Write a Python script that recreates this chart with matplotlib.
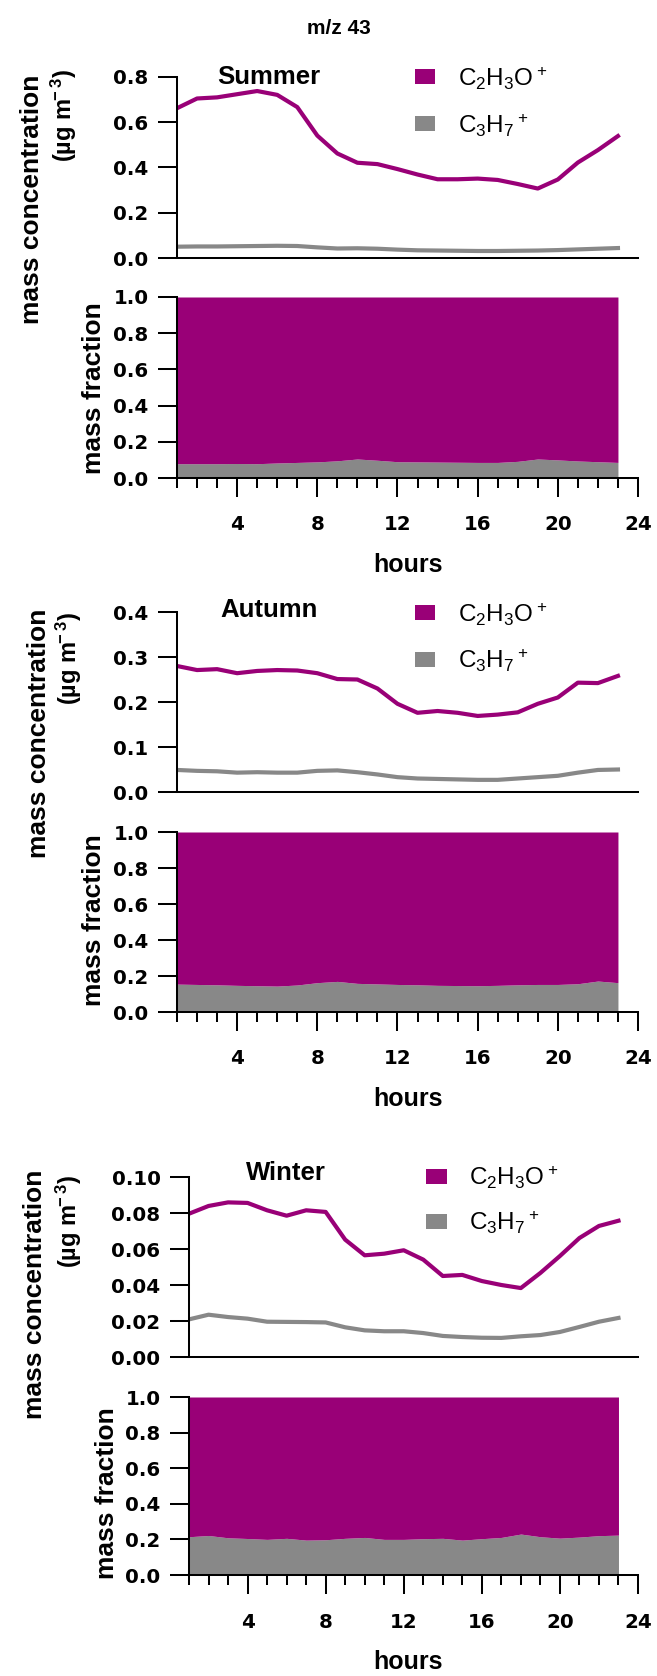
import matplotlib
matplotlib.use('Agg')
import matplotlib.pyplot as plt
from matplotlib.patches import Rectangle
from matplotlib.ticker import FixedLocator

plt.rcParams['font.family'] = ['Liberation Sans', 'DejaVu Sans']
plt.rcParams['mathtext.fontset'] = 'custom'
plt.rcParams['mathtext.rm'] = 'Liberation Sans'
plt.rcParams['mathtext.default'] = 'regular'

hours = list(range(1, 24))

summer_c2h3o = [0.662, 0.705, 0.710, 0.724, 0.738, 0.721, 0.667, 0.541, 0.462, 0.421,
                0.415, 0.393, 0.369, 0.348, 0.348, 0.351, 0.345, 0.327, 0.307, 0.347,
                0.422, 0.477, 0.539]
summer_c3h7 = [0.050, 0.051, 0.051, 0.052, 0.053, 0.054, 0.053, 0.047, 0.042, 0.043,
               0.041, 0.037, 0.034, 0.033, 0.032, 0.031, 0.031, 0.032, 0.033, 0.035,
               0.038, 0.041, 0.044]
summer_frac = [0.079, 0.079, 0.079, 0.080, 0.079, 0.083, 0.086, 0.089, 0.095, 0.105,
               0.098, 0.090, 0.089, 0.088, 0.087, 0.086, 0.086, 0.092, 0.105, 0.100,
               0.094, 0.090, 0.086]

autumn_c2h3o = [0.280, 0.271, 0.273, 0.264, 0.269, 0.271, 0.270, 0.264, 0.251, 0.250,
                0.230, 0.196, 0.176, 0.180, 0.176, 0.169, 0.172, 0.177, 0.196, 0.210,
                0.243, 0.242, 0.258]
autumn_c3h7 = [0.049, 0.047, 0.046, 0.043, 0.044, 0.043, 0.043, 0.047, 0.048, 0.044,
               0.039, 0.033, 0.030, 0.029, 0.028, 0.027, 0.027, 0.030, 0.033, 0.036,
               0.043, 0.049, 0.050]
autumn_frac = [0.155, 0.153, 0.151, 0.148, 0.146, 0.144, 0.150, 0.163, 0.170, 0.159,
               0.156, 0.153, 0.151, 0.148, 0.147, 0.146, 0.148, 0.151, 0.153, 0.153,
               0.157, 0.172, 0.163]

winter_c2h3o = [0.0796, 0.0839, 0.0859, 0.0856, 0.0815, 0.0785, 0.0815, 0.0806, 0.0652, 0.0565,
                0.0574, 0.0593, 0.0541, 0.0450, 0.0456, 0.0422, 0.0400, 0.0383, 0.0467, 0.0561,
                0.0661, 0.0728, 0.0757]
winter_c3h7 = [0.0209, 0.0235, 0.0222, 0.0213, 0.0196, 0.0195, 0.0194, 0.0192, 0.0165, 0.0148,
               0.0143, 0.0143, 0.0133, 0.0117, 0.0111, 0.0107, 0.0106, 0.0115, 0.0122, 0.0139,
               0.0167, 0.0196, 0.0217]
winter_frac = [0.215, 0.222, 0.209, 0.205, 0.200, 0.206, 0.196, 0.198, 0.206, 0.211,
               0.200, 0.200, 0.204, 0.206, 0.196, 0.204, 0.211, 0.230, 0.215, 0.207,
               0.213, 0.221, 0.224]

seasons = ['Summer', 'Autumn', 'Winter']
conc_ticks = [[0.0, 0.2, 0.4, 0.6, 0.8],
              [0.0, 0.1, 0.2, 0.3, 0.4],
              [0.00, 0.02, 0.04, 0.06, 0.08, 0.10]]
conc_ticklabels = [['0.0', '0.2', '0.4', '0.6', '0.8'],
                   ['0.0', '0.1', '0.2', '0.3', '0.4'],
                   ['0.00', '0.02', '0.04', '0.06', '0.08', '0.10']]
frac_ticks = [0.0, 0.2, 0.4, 0.6, 0.8, 1.0]
frac_ticklabels = ['0.0', '0.2', '0.4', '0.6', '0.8', '1.0']
hour_ticks = [4, 8, 12, 16, 20, 24]
series_names = [r'C$_2$H$_3$O$^+$', r'C$_3$H$_7$$^+$']

PURPLE = '#990077'
GRAY = '#888888'

W, H = 657, 1676
fig = plt.figure(figsize=(W / 100, H / 100), dpi=100)


def ax_at(l, r, t, b):
    return fig.add_axes([l / W, 1 - b / H, (r - l) / W, (b - t) / H])


TICKFONT = ['DejaVu Sans']
TFS = 14.3
LFS = 19
SFS = 18.5
LW = 1.45

fig.text(339 / W, 1 - 29 / H, 'm/z 43', ha='center', va='center',
         fontsize=15, fontweight='bold')

layout = [
    dict(left=177, conc=(77, 258), frac=(297, 478), hours=565,
         mc=(32, 75), ug=(64, 69), mf=(94, 388),
         legend_y=(77, 124), leg_x=425, season_xy=(269, 77)),
    dict(left=177, conc=(612, 792), frac=(832, 1012), hours=1099,
         mc=(39, 609), ug=(69, 612), mf=(94, 920),
         legend_y=(613, 659), leg_x=425, season_xy=(269, 610)),
    dict(left=189, conc=(1177, 1357), frac=(1397, 1575), hours=1662,
         mc=(35, 1170), ug=(69, 1175), mf=(107, 1493),
         legend_y=(1176, 1221), leg_x=436, season_xy=(286, 1173)),
]
RIGHT = 638

data = [
    (summer_c2h3o, summer_c3h7, summer_frac),
    (autumn_c2h3o, autumn_c3h7, autumn_frac),
    (winter_c2h3o, winter_c3h7, winter_frac),
]


def style_axis(ax):
    for s in ['top', 'right']:
        ax.spines[s].set_visible(False)
    for s in ['left', 'bottom']:
        ax.spines[s].set_linewidth(LW)
    ax.tick_params(axis='y', direction='out', length=14, width=LW, labelsize=TFS, pad=6.5)


def bold_ticks(labels):
    for lab in labels:
        lab.set_fontweight('bold')
        lab.set_family(TICKFONT)


for i, (lay, (c1, c2, fr)) in enumerate(zip(layout, data)):
    # concentration panel
    ax = ax_at(lay['left'], RIGHT, lay['conc'][0], lay['conc'][1])
    ax.plot(hours, c1, color=PURPLE, lw=3.0)
    ax.plot(hours, c2, color=GRAY, lw=3.0)
    ax.set_xlim(1, 24)
    ax.set_ylim(conc_ticks[i][0], conc_ticks[i][-1])
    ax.set_yticks(conc_ticks[i])
    ax.set_yticklabels(conc_ticklabels[i])
    ax.tick_params(axis='x', bottom=False, labelbottom=False)
    style_axis(ax)
    bold_ticks(ax.get_yticklabels())

    # season label
    fig.text(lay['season_xy'][0] / W, 1 - lay['season_xy'][1] / H, seasons[i],
             ha='center', va='center', fontsize=SFS, fontweight='bold')
    # legend
    for j, (col, name) in enumerate(zip([PURPLE, GRAY], series_names)):
        cy = lay['legend_y'][j]
        fig.add_artist(Rectangle(((lay['leg_x'] - 10.5) / W, 1 - (cy + 7.5) / H),
                                 21 / W, 15 / H, facecolor=col, edgecolor='none',
                                 transform=fig.transFigure))
        fig.text((lay['leg_x'] + 33) / W, 1 - (cy + 9) / H, name,
                 ha='left', va='baseline', fontsize=17.5)

    # y labels
    fig.text(lay['mc'][0] / W, 1 - lay['mc'][1] / H, 'mass concentration',
             rotation=90, ha='center', va='top', fontsize=LFS, fontweight='bold')
    fig.text(lay['ug'][0] / W, 1 - lay['ug'][1] / H, r'(µg m$^{\!\!-3}$)',
             rotation=90, ha='center', va='top', fontsize=17, fontweight='bold')

    # fraction panel
    axf = ax_at(lay['left'], RIGHT, lay['frac'][0], lay['frac'][1])
    axf.fill_between(hours, 0, fr, color=GRAY, lw=0)
    axf.fill_between(hours, fr, 1, color=PURPLE, lw=0)
    axf.set_xlim(1, 24)
    axf.set_ylim(0, 1)
    axf.set_yticks(frac_ticks)
    axf.set_yticklabels(frac_ticklabels)
    axf.xaxis.set_major_locator(FixedLocator(hour_ticks))
    axf.xaxis.set_minor_locator(FixedLocator(hours))
    axf.set_xticklabels([str(h) for h in hour_ticks])
    axf.tick_params(axis='x', which='major', direction='out', length=14, width=LW,
                    labelsize=TFS, pad=13)
    axf.tick_params(axis='x', which='minor', direction='out', length=7.5, width=LW)
    style_axis(axf)
    bold_ticks(axf.get_xticklabels() + axf.get_yticklabels())
    fig.text(lay['mf'][0] / W, 1 - lay['mf'][1] / H,
             'mass fraction', rotation=90, ha='center', va='center',
             fontsize=LFS, fontweight='bold')
    fig.text(408 / W, 1 - lay['hours'] / H, 'hours', ha='center', va='center',
             fontsize=18, fontweight='bold')

fig.savefig('out.png', dpi=100)
